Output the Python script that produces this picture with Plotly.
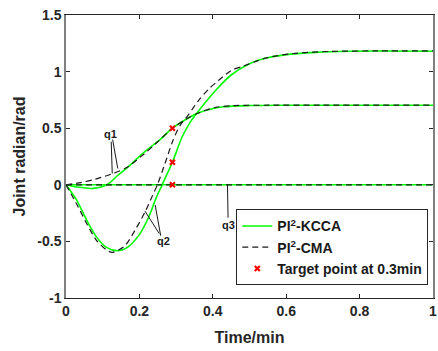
import plotly.graph_objects as go

# ---- data ----
t_q1_kcca = [0, 0.03, 0.074, 0.1, 0.12, 0.14, 0.17, 0.217, 0.253, 0.29, 0.325, 0.357, 0.39, 0.43, 0.5, 0.6, 0.8, 1.0]
q1_kcca   = [0, -0.02, -0.032, -0.015, 0.02, 0.08, 0.16, 0.3, 0.39, 0.5, 0.575, 0.63, 0.665, 0.689, 0.7, 0.703, 0.703, 0.703]

t_q1_cma = [0, 0.04, 0.08, 0.128, 0.164, 0.208, 0.25, 0.29, 0.325, 0.357, 0.406, 0.46, 0.55, 0.7, 1.0]
q1_cma   = [0, 0.02, 0.05, 0.1, 0.15, 0.26, 0.38, 0.5, 0.575, 0.63, 0.683, 0.7, 0.703, 0.703, 0.703]

t_q2_kcca = [0, 0.029, 0.056, 0.083, 0.11, 0.141, 0.164, 0.2, 0.226, 0.245, 0.262, 0.29, 0.316, 0.34, 0.357, 0.388, 0.415, 0.45, 0.5, 0.54, 0.6, 0.68, 0.77, 1.0]
q2_kcca   = [0, -0.135, -0.31, -0.46, -0.553, -0.583, -0.56, -0.44, -0.28, -0.12, 0, 0.2, 0.42, 0.56, 0.635, 0.76, 0.86, 0.97, 1.07, 1.115, 1.15, 1.17, 1.18, 1.18]

t_q2_cma = [0, 0.029, 0.056, 0.083, 0.11, 0.126, 0.16, 0.19, 0.217, 0.235, 0.249, 0.27, 0.29, 0.31, 0.334, 0.36, 0.39, 0.415, 0.45, 0.48, 0.514, 0.55, 0.62, 0.72, 0.85, 1.0]
q2_cma   = [0, -0.17, -0.34, -0.49, -0.575, -0.597, -0.54, -0.39, -0.23, -0.1, 0, 0.19, 0.38, 0.52, 0.62, 0.74, 0.85, 0.92, 1.01, 1.045, 1.086, 1.124, 1.16, 1.178, 1.183, 1.183]

t_q3 = [0, 1.0]
q3_kcca = [0, 0]
q3_cma = [0, 0]

t_target = [0.29, 0.29, 0.29]
y_target = [0.5, 0.2, 0.0]

x_ticks = [0, 0.2, 0.4, 0.6, 0.8, 1.0]
x_ticklabels = ["0", "0.2", "0.4", "0.6", "0.8", "1"]
y_ticks = [-1, -0.5, 0, 0.5, 1, 1.5]
y_ticklabels = ["-1", "-0.5", "0", "0.5", "1", "1.5"]

GREEN = "#00ff00"
FONT = "Liberation Sans, Arial, sans-serif"

fig = go.Figure()

# KCCA (solid green)
for i, (tt, yy) in enumerate([(t_q1_kcca, q1_kcca), (t_q2_kcca, q2_kcca), (t_q3, q3_kcca)]):
    fig.add_trace(go.Scatter(x=tt, y=yy, mode="lines", line=dict(color=GREEN, width=1.6, shape="spline", smoothing=0.8),
                             name="PI<sup>2</sup>-KCCA", legendgroup="k", showlegend=(i == 0)))
# CMA (dashed black)
for i, (tt, yy) in enumerate([(t_q1_cma, q1_cma), (t_q2_cma, q2_cma), (t_q3, q3_cma)]):
    fig.add_trace(go.Scatter(x=tt, y=yy, mode="lines", line=dict(color="#1a1a1a", width=1.2, dash="6px,4px", shape="spline", smoothing=0.8),
                             name="PI<sup>2</sup>-CMA", legendgroup="c", showlegend=(i == 0)))

fig.add_trace(go.Scatter(x=t_target, y=y_target, mode="markers",
                         marker=dict(symbol="x-thin", size=5, color="red", line=dict(color="red", width=2.2)),
                         name="Target point at 0.3min"))

ann_font = dict(family=FONT, size=11, color="#1a1a1a", weight="bold")
# labels with one leader line each (annotation arrows)
labels = [
    dict(x=0.126, y=0.10, ax=0.1226, ay=0.447, text="q1"),
    dict(x=0.215, y=-0.232, ax=0.267, ay=-0.497, text="q2"),
    dict(x=0.44, y=0.0, ax=0.442, ay=-0.356, text="q3"),
]
for a in labels:
    fig.add_annotation(x=a["x"], y=a["y"], ax=a["ax"], ay=a["ay"], axref="x", ayref="y", xref="x", yref="y",
                       text=a["text"], showarrow=True, arrowhead=0, arrowwidth=1,
                       arrowcolor="#1a1a1a", font=ann_font, standoff=0, startstandoff=0)
# second leader lines for q1 and q2
extra_leaders = [
    (0.127, 0.40, 0.141, 0.145),
    (0.258, -0.45, 0.243, -0.179),
]
for x0, y0, x1, y1 in extra_leaders:
    fig.add_shape(type="line", x0=x0, y0=y0, x1=x1, y1=y1, xref="x", yref="y",
                  line=dict(color="#1a1a1a", width=1))

fig.update_layout(
    width=438, height=351,
    margin=dict(l=66, r=1, t=15, b=53),
    plot_bgcolor="white", paper_bgcolor="white",
    font=dict(family=FONT, size=14, color="#262626", weight="bold"),
    showlegend=True,
    legend=dict(x=0.464, y=0.313, xanchor="left", yanchor="top",
                bgcolor="white", bordercolor="#262626", borderwidth=1,
                font=dict(family=FONT, size=14, color="#1a1a1a", weight="bold"),
                tracegroupgap=0, itemwidth=30),
)
fig.update_xaxes(range=[0, 1], tickvals=x_ticks, ticktext=x_ticklabels, ticklabeloverflow="allow",
                 showline=True, linecolor="#262626", linewidth=1, mirror="ticks",
                 ticks="inside", ticklen=4, tickcolor="#262626", showgrid=False, zeroline=False,
                 title=dict(text="Time/min", font=dict(family=FONT, size=16, weight="bold"), standoff=14))
fig.update_yaxes(range=[-1, 1.5], tickvals=y_ticks, ticktext=y_ticklabels,
                 showline=True, linecolor="#808080", linewidth=1.5, mirror="ticks",
                 ticks="inside", ticklen=4, tickcolor="#262626", showgrid=False, zeroline=False,
                 title=dict(text="Joint radian/rad", font=dict(family=FONT, size=16, weight="bold"), standoff=8))

fig.write_html("out.html")
